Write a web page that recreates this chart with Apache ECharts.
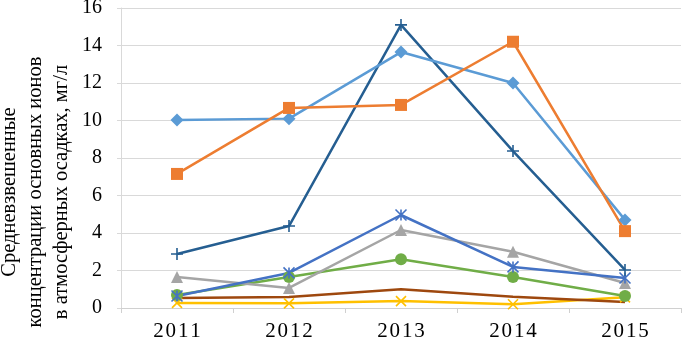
<!DOCTYPE html>
<html><head><meta charset="utf-8">
<script src="https://cdn.jsdelivr.net/npm/echarts@6/dist/echarts.min.js"></script>
<style>html,body{margin:0;padding:0;background:#fff}#c{width:683px;height:342px}</style>
</head><body><div id="c"></div>
<script>
const years = ['2011','2012','2013','2014','2015'];
const yTicks = [0,2,4,6,8,10,12,14,16];
const sDiamond = [10.03, 10.1, 13.65, 12.0, 4.7];
const sSquare = [7.15, 10.67, 10.83, 14.2, 4.1];
const sPlus = [2.88, 4.37, 15.1, 8.37, 2.03];
const sStar = [0.64, 1.87, 4.96, 2.19, 1.6];
const sTriangle = [1.65, 1.07, 4.16, 3.0, 1.33];
const sCircle = [0.69, 1.65, 2.6, 1.65, 0.64];
const sBrown = [0.53, 0.59, 1.0, 0.6, 0.32];
const sYellow = [0.27, 0.25, 0.37, 0.2, 0.57];

const font = '"Liberation Serif","Times New Roman",serif';
function line(data, color, symbol, size, stroke){
  return {type:'line', data, symbol, symbolSize:size, showSymbol: symbol!=='none',
    lineStyle:{color, width:2.5}, itemStyle: stroke ? {color, borderColor:color, borderWidth:1.6} : {color},
    animation:false, z: 2};
}
const chart = echarts.init(document.getElementById('c'));
chart.setOption({
  animation:false,
  grid:{left:121, right:2, top:8, bottom:34, containLabel:false, outerBoundsMode:'none'},
  xAxis:{type:'category', data:years, boundaryGap:true,
    axisLine:{lineStyle:{color:'#D0D0D0', width:1}},
    axisTick:{show:true, length:5, lineStyle:{color:'#D0D0D0'}, alignWithLabel:false},
    axisLabel:{color:'#000', fontFamily:font, fontSize:21, margin:13,
      formatter: v => v.split('').join('\u200A')}
  },
  yAxis:{type:'value', min:0, max:16, interval:2,
    axisLine:{show:true, lineStyle:{color:'#D9D9D9'}},
    axisTick:{show:true, length:4, lineStyle:{color:'#D9D9D9'}},
    splitLine:{lineStyle:{color:'#D9D9D9', width:1}},
    axisLabel:{color:'#000', fontFamily:font, fontSize:20, margin:19},
    name:'Средневзвешенные\nконцентрации основных ионов\nв атмосферных осадках, мг/л',
    nameLocation:'middle', nameRotate:90, nameGap:46, nameMoveOverlap:false,
    nameTextStyle:{color:'#000', fontFamily:font, fontSize:20.5, lineHeight:26, padding:[0,68,0,0]}
  },
  series:[
    line(sYellow, '#FFC000', 'path://M0,0L10,10M10,0L0,10', 10, true),
    line(sBrown, '#9E480E', 'none', 0, false),
    line(sCircle, '#70AD47', 'circle', 12, false),
    line(sTriangle, '#A5A5A5', 'triangle', 12, false),
    line(sStar, '#4472C4', 'path://M0,0L10,10M10,0L0,10M5,0L5,10', 11, true),
    line(sPlus, '#255E91', 'path://M5,0L5,10M0,5L10,5', 12, true),
    line(sDiamond, '#5B9BD5', 'diamond', 13, false),
    line(sSquare, '#ED7D31', 'rect', 12, false)
  ]
});
</script></body></html>
